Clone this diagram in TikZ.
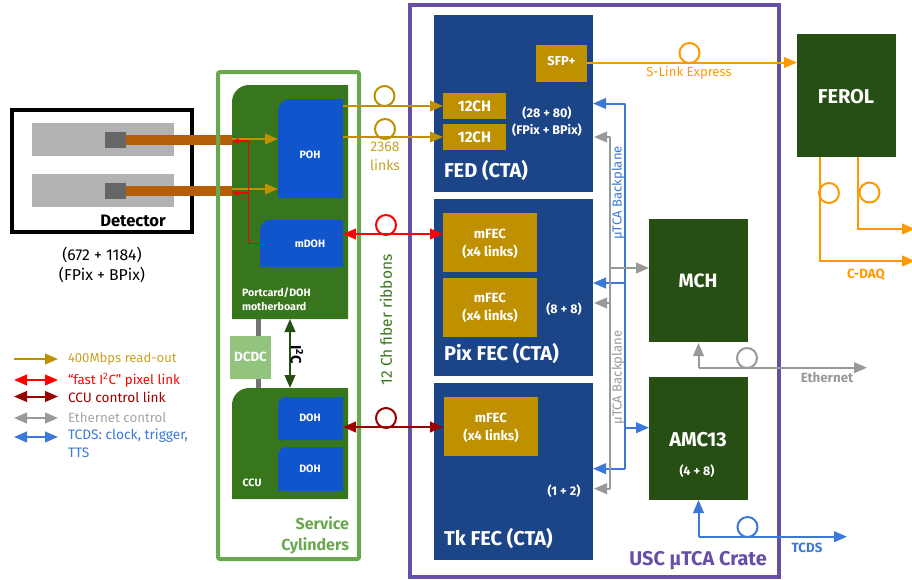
\documentclass[tikz,border=0pt]{standalone}
\usepackage{fontspec}
\setmainfont{Fira Sans}
\usetikzlibrary{arrows.meta,calc}
\definecolor{cgold}{HTML}{BF9000}
\definecolor{cgoldt}{HTML}{C9A227}
\definecolor{cnavy}{HTML}{1C4587}
\definecolor{cblue}{HTML}{1155CC}
\definecolor{cgreen}{HTML}{38761D}
\definecolor{cdgreen}{HTML}{274E13}
\definecolor{clgreen}{HTML}{93C47D}
\definecolor{csvc}{HTML}{6AA84F}
\definecolor{cpurple}{HTML}{674EA7}
\definecolor{cbrown}{HTML}{B45F06}
\definecolor{cred}{HTML}{FF0000}
\definecolor{cdred}{HTML}{990000}
\definecolor{cgray}{HTML}{999999}
\definecolor{corange}{HTML}{FF9900}
\definecolor{ctblue}{HTML}{3C78D8}
\newcommand{\fs}[1]{\fontsize{#1}{#1}\selectfont\baselineskip=1.33\baselineskip}
\tikzset{
  x=0.75pt,y=-0.75pt,
  rbox/.style n args={4}{at={({(#1+#3)/2},{(#2+#4)/2})},anchor=center,draw=none,inner sep=0pt,outer sep=0pt,
     minimum width={(#3-#1)*0.75pt},minimum height={(#4-#2)*0.75pt}},
  lbl/.style={inner sep=0pt,outer sep=0pt,align=center},
  wb/.style={lbl,text=white,font=\bfseries\fs{#1}},
  tip/.style={-{Triangle[length=9.75pt,width=8pt]}},
  ttip/.style={{Triangle[length=9.75pt,width=8pt]}-{Triangle[length=9.75pt,width=8pt]}},
  link/.style={line width=1.5pt,line join=round},
  ring/.style={circle,draw=#1,line width=1.5pt,minimum size=15pt,inner sep=0pt,outer sep=0pt},
}
\newcommand{\tlfill}[6]{\fill[#6] (#1,#4) [rounded corners=#5*0.75pt] -- (#1,#2) [sharp corners] -- (#3,#2) -- (#3,#4) -- cycle;}
\begin{document}
\begin{tikzpicture}
\useasboundingbox (0,0) rectangle (912,579);
% detector
\node[rbox={12}{110}{192}{232},draw=black,line width=3pt,fill=white] (det) {};
\node[rbox={32}{123}{174}{156},fill=black!30] (m1) {};
\node[rbox={32}{174}{174}{207},fill=black!30] (m2) {};
\node[rbox={125}{135}{232}{145},fill=cbrown] (b1) {};
\node[rbox={125}{186}{232}{196},fill=cbrown] (b2) {};
\node[rbox={105}{132}{126}{148},fill=black!60] (s1) {};
\node[rbox={105}{183}{126}{199},fill=black!60] (s2) {};
\node[lbl,font=\bfseries\fs{12.4}] (detl) at (133,221) {Detector};
\node[lbl,font=\fs{11.8}] (detn) at (102,265) {(672 + 1184)\\(FPix + BPix)};
% service cylinders
\draw[csvc,line width=3pt,rounded corners=1.5pt] (218,72) rectangle (359,559);
\node[rbox={255.5}{319}{260.5}{388},fill=black!55] (pw) {};
\tlfill{232}{85}{348}{319}{17}{cgreen}
\node[rbox={232}{85}{348}{319}] (port) {};
\tlfill{278}{99}{343}{198}{12}{cblue}
\node[rbox={278}{99}{343}{198}] (poh) {};
\tlfill{260}{220}{343}{267}{10}{cblue}
\node[rbox={260}{220}{343}{267}] (mdoh) {};
\node[wb=8] (pohl) at (310,155) {POH};
\node[wb=8] (mdohl) at (310,243.5) {mDOH};
\node[wb=8,align=left,anchor=west] (portl) at (242,299.5) {Portcard/DOH\\motherboard};
\node[rbox={230}{336}{271}{379},fill=clgreen] (dcdc) {};
\node[wb=10] (dcdcl) at (250.5,357) {DCDC};
\tlfill{232}{388}{348}{499}{17}{cgreen}
\node[rbox={232}{388}{348}{499}] (ccu) {};
\tlfill{278}{397}{343}{440}{8}{cblue}
\node[rbox={278}{397}{343}{440}] (doh1) {};
\tlfill{278}{447}{343}{491}{8}{cblue}
\node[rbox={278}{447}{343}{491}] (doh2) {};
\node[wb=8] (doh1l) at (310,418) {DOH};
\node[wb=8] (doh2l) at (310,469) {DOH};
\node[wb=8] (ccul) at (252,483) {CCU};
\node[lbl,align=right,anchor=east,text=csvc,font=\bfseries\fs{12}] (svcl) at (349,535) {Service\\Cylinders};
% crate
\draw[cpurple,line width=3pt] (410,4.5) rectangle (779,576.5);
\node[rbox={434}{15}{593}{192},fill=cnavy] (fed) {};
\node[rbox={434}{199}{593}{376},fill=cnavy] (pix) {};
\node[rbox={434}{383}{593}{560},fill=cnavy] (tk) {};
\node[rbox={536}{45}{587}{82},fill=cgold] (sfp) {};
\node[wb=9.7] (sfpl) at (561.5,61) {SFP+};
\node[rbox={443}{93}{506}{119},fill=cgold] (ch1) {};
\node[wb=11.3] (ch1l) at (ch1) {12CH};
\node[rbox={443}{124}{506}{150},fill=cgold] (ch2) {};
\node[wb=11.3] (ch2l) at (ch2) {12CH};
\node[wb=9.4] (fedn) at (547,121.5) {(28 + 80)\\(FPix + BPix)};
\node[wb=15,anchor=west] (fedl) at (444,170) {FED (CTA)};
\node[rbox={443}{213}{537}{272},fill=cgold] (mf1) {};
\node[wb=10] (mf1l) at (490,244) {mFEC\\(x4 links)};
\node[rbox={443}{278}{537}{337},fill=cgold] (mf2) {};
\node[wb=10] (mf2l) at (490,308) {mFEC\\(x4 links)};
\node[wb=9.4] (pixn) at (564,309) {(8 + 8)};
\node[wb=15,anchor=west] (pixl) at (444,353) {Pix FEC (CTA)};
\node[rbox={444}{397}{538}{456},fill=cgold] (mf3) {};
\node[wb=10] (mf3l) at (491,428) {mFEC\\(x4 links)};
\node[wb=9.4] (tkn) at (564,491) {(1 + 2)};
\node[wb=15,anchor=west] (tkl) at (444,538) {Tk FEC (CTA)};
\node[rbox={797}{34}{896}{157},fill=cdgreen] (ferol) {};
\node[wb=15] (ferl) at (846,97) {FEROL};
\node[rbox={649}{219}{748}{342},fill=cdgreen] (mch) {};
\node[wb=14.5] (mchl) at (698,281) {MCH};
\node[rbox={649}{377}{748}{500},fill=cdgreen] (amc) {};
\node[wb=15] (amcl) at (698,440) {AMC13};
\node[wb=9.4] (amcn) at (697,471) {(4 + 8)};
\node[lbl,text=cpurple,font=\bfseries\fs{14.9}] (cratel) at (698,561) {USC µTCA Crate};
% ports and free ends
\coordinate (pA) at (343,234); \coordinate (pB) at (443,234);
\coordinate (pC) at (343,427); \coordinate (pD) at (443,427);
\coordinate (sl) at (587,62.5);
\coordinate (d1) at (820,157); \coordinate (d1e) at (915,261);
\coordinate (d2) at (858,157); \coordinate (d2e) at (915,229);
\coordinate (bt) at (593,103.5); \coordinate (bm) at (593,283); \coordinate (bb) at (593,468.7);
\coordinate (gt) at (594,137); \coordinate (gm) at (594,303); \coordinate (gb) at (594,488.7);
\coordinate (bj) at (624.5,427.7); \coordinate (gj) at (610,268);
\coordinate (bbus) at (624.5,0); \coordinate (gbus) at (610,0);
\coordinate (ee) at (867,367.7); \coordinate (te) at (847,536.7);
\coordinate (jr) at (248.5,243.5);
% links
\draw[link,cgold,tip] (b1.east |- 0,139) -- (poh.west |- 0,139);
\draw[link,cgold,tip] (b2.east |- 0,189) -- (poh.west |- 0,189);
\draw[link,cgold,tip] (poh.east |- ch1.west) -- (ch1.west);
\draw[link,cgold,tip] (poh.east |- ch2.west) -- (ch2.west);
\node[ring=cgold] (r1) at (384.5,96) {};
\node[ring=cgold] (r2) at (385,129) {};
\node[lbl,text=cgoldt,font=\fs{10.5}] (lnk) at (385,156.5) {2368\\links};
\draw[cred,line width=1pt,-{Triangle[length=5pt,width=4pt]}] (mdoh.west) -- (jr) |- (b1.east |- 0,141);
\draw[cred,line width=1pt,-{Triangle[length=5pt,width=4pt]}] (jr |- 0,193) -- (b2.east |- 0,193);
\draw[link,cred,ttip] (pA) -- (pB);
\node[ring=cred] (r3) at (386,225) {};
\draw[link,cdred,ttip] (pC) -- (pD);
\node[ring=cdred] (r4) at (386,418) {};
\draw[link,cdgreen,ttip] (port.south -| 290,0) -- (ccu.north -| 290,0);
\node[lbl,rotate=-90,font=\bfseries\fs{11}] (i2c) at (297,355) {I\textsuperscript{2}C};
\node[lbl,rotate=90,text=cgreen,font=\fs{11.6}] (rib) at (386,320) {12 Ch fiber ribbons};
% right side
\draw[link,corange,tip] (sl) -- (ferol.west |- sl);
\node[ring=corange] (r5) at (689.5,53) {};
\node[lbl,text=corange,font=\fs{9.8}] (sll) at (689,73) {S-Link Express};
\draw[link,corange,tip,line join=miter] (d1) |- (d1e);
\draw[link,corange,tip,line join=miter] (d2) |- (d2e);
\node[ring=corange] (r6) at (829,193) {};
\node[ring=corange] (r7) at (869.5,192.5) {};
\node[lbl,text=corange,font=\bfseries\fs{10}] (cd) at (866,275) {C-DAQ};
% backplane
\draw[link,ctblue,tip] (bbus |- bb) -- (bbus |- bt) -- (bt);
\draw[link,ctblue,tip] (bbus |- bb) -- (bb);
\draw[link,ctblue,tip] (bbus |- bm) -- (bm);
\draw[link,ctblue,tip] (bj) -- (amc.west |- bj);
\draw[link,cgray,tip] (gbus |- gb) -- (gbus |- gt) -- (gt);
\draw[link,cgray,tip] (gbus |- gb) -- (gb);
\draw[link,cgray,tip] (gbus |- gm) -- (gm);
\draw[link,cgray,tip] (gj) -- (mch.west |- gj);
\node[lbl,rotate=90,text=ctblue,font=\fs{9.8}] (bpb) at (618,193) {µTCA Backplane};
\node[lbl,rotate=90,text=cgray,font=\fs{9.8}] (bpg) at (618,377.5) {µTCA Backplane};
\draw[link,cgray,tip] (mch.south |- ee) -- (ee);
\draw[link,cgray,tip] (mch.south |- ee) -- ([yshift=-0.75pt]mch.south);
\node[ring=cgray] (r8) at (747,358) {};
\node[lbl,text=cgray,font=\bfseries\fs{10}] (ethl) at (827,378) {Ethernet};
\draw[link,ctblue,tip] (amc.south |- te) -- (te);
\draw[link,ctblue,tip] (amc.south |- te) -- (amc.south);
\node[ring=ctblue] (r9) at (747.5,527) {};
\node[lbl,text=ctblue,font=\bfseries\fs{10}] (tcl) at (807,548) {TCDS};
% legend
\coordinate (l1a) at (14,359); \coordinate (l1b) at (58,359);
\coordinate (l2a) at (14,380); \coordinate (l2b) at (58,380);
\coordinate (l3a) at (14,396.5); \coordinate (l3b) at (58,396.5);
\coordinate (l4a) at (14,418); \coordinate (l4b) at (58,418);
\coordinate (l5a) at (14,437); \coordinate (l5b) at (58,437);
\draw[link,cgold,tip] (l1a) -- (l1b);
\draw[link,cred,ttip] (l2a) -- (l2b);
\draw[link,cdred,ttip] (l3a) -- (l3b);
\draw[link,cgray,ttip] (l4a) -- (l4b);
\draw[link,ctblue,ttip] (l5a) -- (l5b);
\node[lbl,anchor=west,text=cgoldt,font=\fs{9.8}] (t1) at (68,359) {400Mbps read-out};
\node[lbl,anchor=west,text=cred,font=\fs{10}] (t2) at (68,380) {“fast I\textsuperscript{2}C” pixel link};
\node[lbl,anchor=west,text=cdred,font=\fs{10.2}] (t3) at (68,397) {CCU control link};
\node[lbl,anchor=west,text=black!35,font=\fs{10}] (t4) at (68,418) {Ethernet control};
\node[lbl,anchor=west,align=left,text=ctblue,font=\fs{10.3}] (t5) at (68,443.5) {TCDS: clock, trigger,\\TTS};
\end{tikzpicture}
\end{document}
